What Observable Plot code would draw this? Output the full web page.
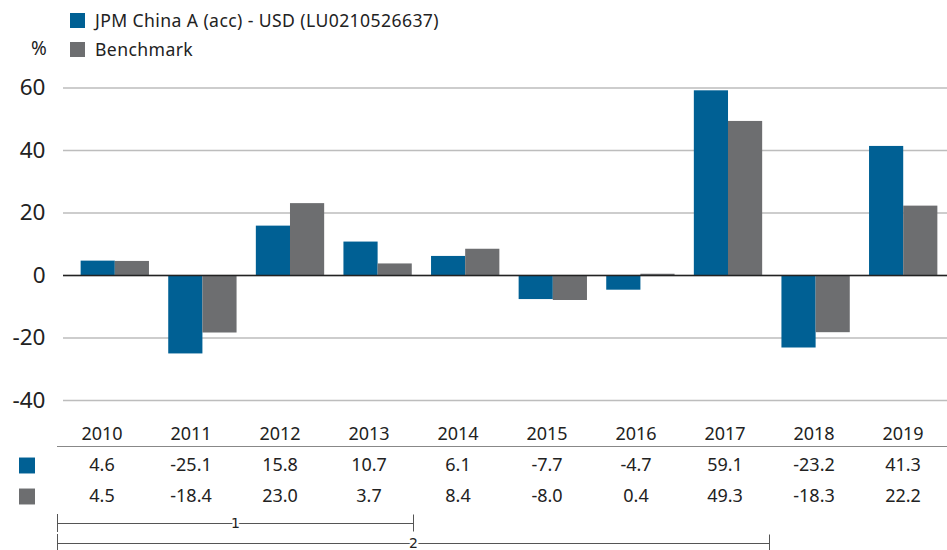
<!DOCTYPE html>
<html><head><meta charset="utf-8">
<script src="https://cdn.jsdelivr.net/npm/d3@7"></script>
<script src="https://cdn.jsdelivr.net/npm/@observablehq/plot@0.6"></script>
<style>
body{margin:0;background:#fff;}
#wrap{position:relative;width:947px;height:550px;font-family:"Noto Sans",sans-serif;color:#222;overflow:hidden;background:#fff}
#wrap svg{position:absolute;left:0;overflow:visible}
.leg{position:absolute;font-size:17.6px;line-height:20px;white-space:nowrap;letter-spacing:0.4px}
.sw{position:absolute;width:15px;height:15px}
</style></head><body><div id="wrap"></div>
<script>
const years = ["2010","2011","2012","2013","2014","2015","2016","2017","2018","2019"];
const fundValues = [4.6,-25.1,15.8,10.7,6.1,-7.7,-4.7,59.1,-23.2,41.3];
const benchValues = [4.5,-18.4,23.0,3.7,8.4,-8.0,0.4,49.3,-18.3,22.2];
const seriesNames = ["JPM China A (acc) - USD (LU0210526637)","Benchmark"];
const seriesColors = ["#006094","#6d6e70"];
const yTicks = [60,40,20,0,-20,-40];
const yUnit = "%";
const periodBrackets = [{label:"1", from:"2010", to:"2013"},{label:"2", from:"2010", to:"2017"}];

const wrap = d3.select("#wrap");
const rows = years.map((y,i)=>({year:y, fund:fundValues[i], bench:benchValues[i]}));
const fmtAxis = d => d < 0 ? "-" + Math.abs(d) : String(d);
const fmt1 = d => (d < 0 ? "-" : "") + Math.abs(d).toFixed(1);
const textStyle = {fontFamily:"'Noto Sans', sans-serif", color:"#222", background:"transparent", overflow:"visible"};

// Chart
const chart = Plot.plot({
  width:947, height:410, marginTop:87.5, marginBottom:10, marginLeft:63, marginRight:0,
  style: textStyle,
  x:{type:"band", domain:years, range:[71,947], paddingInner:0.22, paddingOuter:0.11, round:false, axis:null},
  y:{domain:[-40,60], axis:null},
  marks:[
    Plot.ruleY(yTicks, {stroke:"#bdbdbd", strokeWidth:1.5}),
    Plot.barY(rows, {x:"year", y:"fund", fill:seriesColors[0], insetRight:34.15}),
    Plot.barY(rows, {x:"year", y:"bench", fill:seriesColors[1], insetLeft:34.15}),
    Plot.ruleY([0], {stroke:"#222", strokeWidth:1.5}),
    Plot.axisY(yTicks, {tickSize:0, tickPadding:18, fontSize:22.5, tickFormat:fmtAxis, fill:"#222"})
  ]
});
d3.select(chart).style("top","0px");
wrap.node().appendChild(chart);

// Legend (HTML)
const legendTops = [13, 42];
seriesNames.forEach((name,i)=>{
  wrap.append("div").attr("class","sw").style("left","70px").style("top",(legendTops[i])+"px").style("background",seriesColors[i]);
  wrap.append("div").attr("class","leg").style("left","95px").style("top",(legendTops[i]-3)+"px").text(name);
});
wrap.append("div").attr("class","leg").style("left","31px").style("top","38px").style("font-size","19px").text(yUnit);

// Table
const table = Plot.plot({
  width:947, height:100, marginTop:36, marginLeft:57, marginRight:0, marginBottom:0,
  style: textStyle,
  x:{type:"band", domain:years, range:[57,947], padding:0, round:false, axis:null},
  y:{type:"point", domain:["year","fund","bench"], range:[23.5,85.5], padding:0, axis:null},
  marks:[
    Plot.frame({anchor:"top", stroke:"#888", strokeWidth:1}),
    Plot.text(rows, {x:"year", y:()=>"year", text:"year", fontSize:18, fill:"#222"}),
    Plot.text(rows, {x:"year", y:()=>"fund", text:d=>fmt1(d.fund), fontSize:18, fill:"#222"}),
    Plot.text(rows, {x:"year", y:()=>"bench", text:d=>fmt1(d.bench), fontSize:18, fill:"#222"}),
    Plot.dot(["fund","bench"], {y:d=>d, frameAnchor:"left", dx:-30.5, symbol:"square", r:9.0, fill:(d,i)=>seriesColors[i]})
  ]
});
d3.select(table).style("top","410px");
wrap.node().appendChild(table);

// Period brackets
const bracketRows = periodBrackets.map(b=>({label:b.label, x1:years.indexOf(b.from), x2:years.indexOf(b.to)+1}));
const brackets = Plot.plot({
  width:947, height:45, marginTop:0, marginBottom:0, marginLeft:0, marginRight:0,
  style: textStyle,
  x:{domain:[0, years.length], range:[57,947], axis:null},
  y:{type:"point", domain:periodBrackets.map(b=>b.label), range:[18,38], padding:0, axis:null},
  marks:[
    Plot.ruleY(bracketRows, {y:"label", x1:"x1", x2:"x2", stroke:"#555", strokeWidth:1}),
    Plot.ruleX(bracketRows, {x:"x1", y1:"label", y2:"label", insetTop:-9, insetBottom:-9, stroke:"#555", strokeWidth:1}),
    Plot.ruleX(bracketRows, {x:"x2", y1:"label", y2:"label", insetTop:-8.5, insetBottom:-8.5, stroke:"#555", strokeWidth:1}),
    Plot.text(bracketRows, {x:d=>(d.x1+d.x2)/2, y:"label", text:"label", fontSize:14, fontFamily:"'DejaVu Sans', sans-serif", fill:"#222", stroke:"white", strokeWidth:5})
  ]
});
d3.select(brackets).style("top","505px");
wrap.node().appendChild(brackets);
</script></body></html>
